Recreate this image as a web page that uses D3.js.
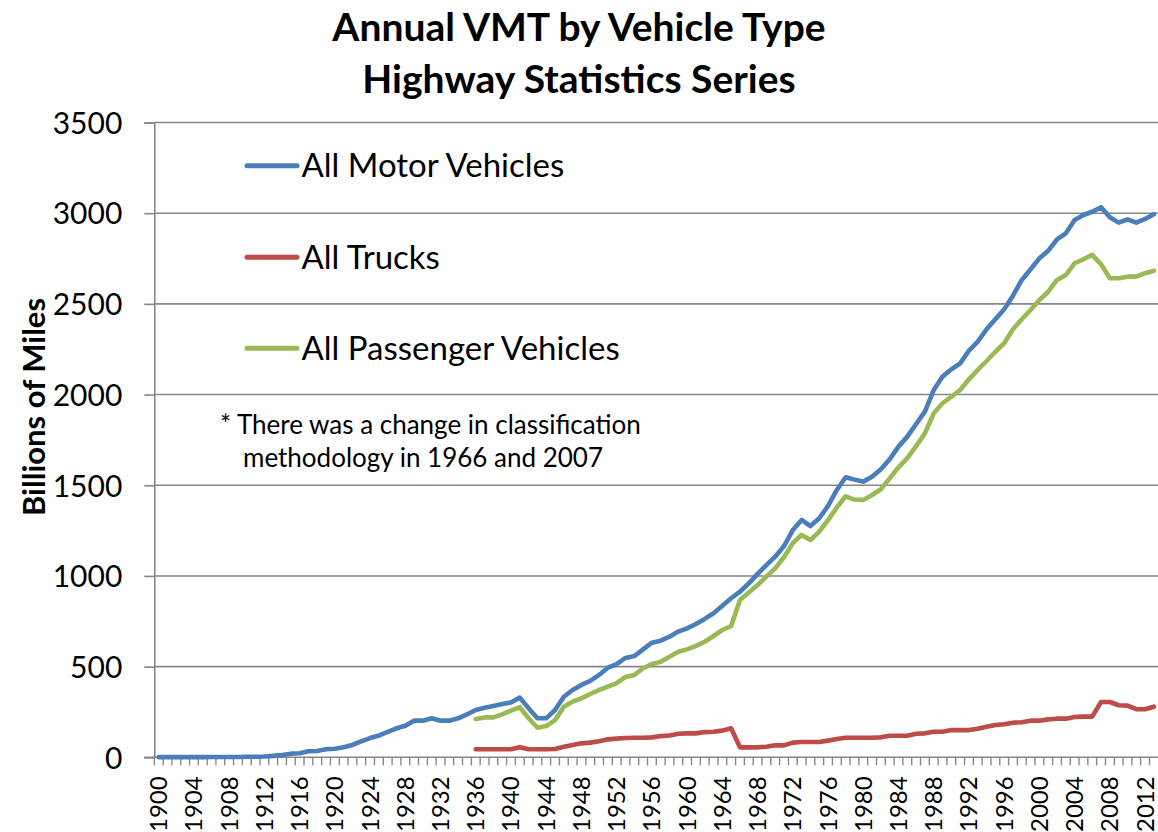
<!DOCTYPE html>
<html>
<head>
<meta charset="utf-8">
<script src="https://cdn.jsdelivr.net/npm/d3@7"></script>
<style>
  body { margin: 0; background: #fff; }
  text { font-family: Lato, "Open Sans", sans-serif; }
</style>
</head>
<body>
<div id="chart"></div>
<script>
// categories: one per year
const years = d3.range(1900, 2014);
const tickYears = years.filter(y => (y - 1900) % 4 === 0);
const yTicks = [0, 500, 1000, 1500, 2000, 2500, 3000, 3500];

// All Motor Vehicles, 1900-2013 (billions of miles)
const motorVehicles = [
  1, 1, 1, 1, 1, 1, 2, 2, 2, 2, 3, 3, 4,
  8, 12, 20, 22, 33, 35, 45, 47, 55, 68, 88, 106, 120, 140, 160, 174,
  202, 202, 215, 202, 202, 215, 237, 261, 273, 283, 294, 302, 329, 270,
  215, 215, 261, 334, 371, 399, 421, 454, 494, 514, 548, 558, 595, 632,
  643, 665, 693, 711, 735, 763, 794, 836, 877, 913, 959, 1011, 1060, 1106,
  1165, 1253, 1309, 1275, 1318, 1386, 1474, 1544, 1531, 1520, 1547, 1588,
  1643, 1713, 1768, 1838, 1906, 2025, 2099, 2139, 2172, 2242, 2292, 2360,
  2415, 2470, 2545, 2632, 2691, 2751, 2793, 2856, 2889, 2963, 2990, 3008,
  3033, 2978, 2948, 2966, 2948, 2968, 2994
];

// the two split series start in 1936
const splitStart = 1936;

// All Trucks, 1936-2013
const trucks = [
  44, 44, 44, 44, 44, 56, 44, 44, 44, 46, 58, 68, 77, 81, 88, 99, 103, 106,
  108, 108, 110, 117, 120, 130, 132, 132, 139, 141, 147, 160, 55, 55, 55, 58,
  66, 66, 81, 84, 84, 84, 92, 101, 108, 108, 108, 108, 110, 119, 119, 119,
  130, 132, 141, 141, 150, 150, 150, 157, 169, 178, 182, 191, 193, 202, 202,
  209, 213, 213, 222, 224, 224, 305, 305, 287, 285, 265, 265, 279
];

// All Passenger Vehicles, 1936-2013
const passengerVehicles = [
  211, 220, 220, 237, 257, 276, 215, 163, 172, 205, 279, 307, 325, 349, 371,
  390, 409, 443, 454, 491, 514, 527, 555, 582, 595, 614, 637, 669, 702, 724,
  867, 908, 950, 996, 1042, 1103, 1180, 1226, 1198, 1244, 1308, 1378, 1439,
  1421, 1419, 1446, 1478, 1538, 1599, 1649, 1716, 1786, 1897, 1952, 1988,
  2025, 2084, 2136, 2185, 2236, 2283, 2360, 2415, 2466, 2521, 2567, 2632,
  2659, 2724, 2746, 2770, 2718, 2641, 2641, 2650, 2650, 2669, 2683
];

const seriesNames = ["All Motor Vehicles", "All Trucks", "All Passenger Vehicles"];
const seriesColors = ["#4a7ebb", "#be4b48", "#98b954"];

const width = 1158, height = 832;
const margin = {top: 122.5, right: 0, bottom: 74.7, left: 154.3};

const svg = d3.select("#chart")
  .append("svg")
  .attr("width", width)
  .attr("height", height);

let x = d3.scaleBand()
  .domain(years)
  .range([margin.left, width + 0.3])
  .paddingInner(0).paddingOuter(0);

let y = d3.scaleLinear()
  .domain([0, 3500])
  .range([height - margin.bottom, margin.top]);

const cx = d => x(d) + x.bandwidth() / 2;

// grid lines
svg.selectAll("line.grid").data(yTicks.slice(1)).enter()
  .append("line")
  .attr("class", "grid")
  .attr("x1", margin.left)
  .attr("x2", width)
  .attr("y1", d => y(d))
  .attr("y2", d => y(d))
  .attr("stroke", "#878787")
  .attr("stroke-width", 1.6);

// y axis
const yAxis = svg.append("g")
  .attr("transform", `translate(${margin.left},0)`)
  .call(d3.axisLeft(y).tickValues(yTicks).tickFormat(d3.format("d"))
    .tickSize(10).tickPadding(22));
yAxis.select(".domain").attr("stroke", "#878787").attr("stroke-width", 1.6);
yAxis.selectAll(".tick line").attr("stroke", "#878787").attr("stroke-width", 1.6);
yAxis.selectAll(".tick text")
  .attr("fill", "#000")
  .style("font-size", "30px")
  .style("font-family", "Lato, sans-serif")
  .attr("dy", "0.36em");

// x axis: line, ticks between categories, labels every 4 years
const x0 = y(0);
svg.append("line")
  .attr("x1", margin.left - 10).attr("x2", width)
  .attr("y1", x0).attr("y2", x0)
  .attr("stroke", "#878787").attr("stroke-width", 1.6);

svg.selectAll("line.xtick").data(years).enter()
  .append("line")
  .attr("class", "xtick")
  .attr("x1", d => x(d)).attr("x2", d => x(d))
  .attr("y1", x0).attr("y2", x0 + 8)
  .attr("stroke", "#878787").attr("stroke-width", 1.4);

svg.selectAll("text.xlabel").data(tickYears).enter()
  .append("text")
  .attr("class", "xlabel")
  .attr("transform", d => `translate(${cx(d) + 8.5},${x0 + 19}) rotate(-90)`)
  .attr("text-anchor", "end")
  .style("font-size", "24px")
  .text(d => d);

// lines
const line = d3.line()
  .defined(d => d.v != null)
  .x(d => cx(d.year))
  .y(d => y(d.v))
  .curve(d3.curveLinear);

const seriesData = [
  motorVehicles.map((v, i) => ({year: years[i], v: v})),
  trucks.map((v, i) => ({year: splitStart + i, v: v})),
  passengerVehicles.map((v, i) => ({year: splitStart + i, v: v}))
];

seriesData.forEach(function(data, i) {
  svg.append("path")
    .datum(data)
    .attr("fill", "none")
    .attr("stroke", seriesColors[i])
    .attr("stroke-width", 4.6)
    .attr("stroke-linejoin", "round")
    .attr("stroke-linecap", "round")
    .attr("d", line);
});

// legend
const legendY = [165.7, 257.3, 348.3];
seriesNames.forEach(function(name, i) {
  svg.append("line")
    .attr("x1", 247).attr("x2", 297)
    .attr("y1", legendY[i]).attr("y2", legendY[i])
    .attr("stroke", seriesColors[i])
    .attr("stroke-width", 5)
    .attr("stroke-linecap", "round");
  svg.append("text")
    .attr("x", 301.5)
    .attr("y", legendY[i] + 11.5)
    .style("font-size", "33px")
    .text(name);
});

// note
svg.append("text")
  .attr("x", 220).attr("y", 434)
  .style("font-size", "26px")
  .text("* There was a change in classification");
svg.append("text")
  .attr("x", 243).attr("y", 467)
  .style("font-size", "26px")
  .text("methodology in 1966 and 2007");

// title
svg.append("text")
  .attr("x", 579).attr("y", 41)
  .attr("text-anchor", "middle")
  .style("font-size", "39px").style("font-weight", "bold")
  .text("Annual VMT by Vehicle Type");
svg.append("text")
  .attr("x", 579).attr("y", 93)
  .attr("text-anchor", "middle")
  .style("font-size", "39px").style("font-weight", "bold")
  .text("Highway Statistics Series");

// y axis title
svg.append("text")
  .attr("transform", "translate(45,407) rotate(-90)")
  .attr("text-anchor", "middle")
  .style("font-size", "31px").style("font-weight", "bold")
  .text("Billions of Miles");
</script>
</body>
</html>
